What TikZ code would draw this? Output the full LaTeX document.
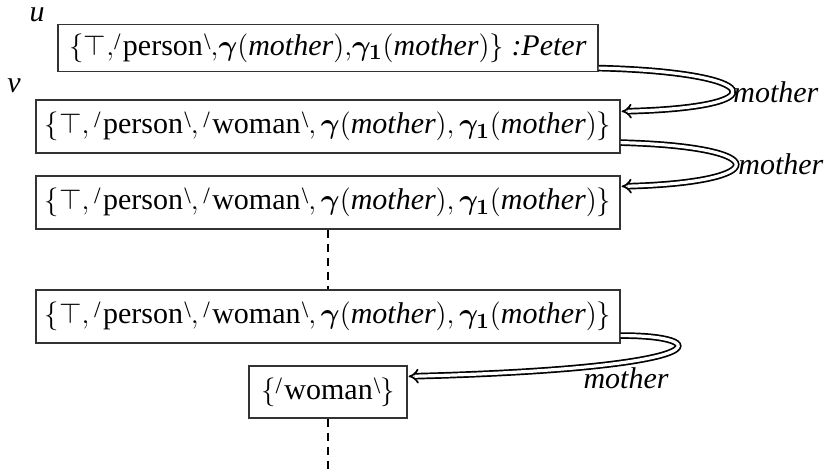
\documentclass[tikz,border=0pt]{standalone}
\usepackage{fontspec}
\setmainfont{Liberation Serif}
\usepackage{amsmath,amssymb}
\usepackage{graphicx}
\usetikzlibrary{arrows.meta}
\newcommand{\qL}{\raisebox{0.42ex}{\scalebox{0.78}{/}}\kern0.08em}
\newcommand{\qR}{\kern0.04em\raisebox{0.42ex}{\scalebox{0.78}{\textbackslash}}}
\newcommand{\mo}{\text{\itshape mother}}
\newcommand{\gm}{\boldsymbol{\gamma}}
\newcommand{\gmo}{\boldsymbol{\gamma_1}}
\begin{document}
\begin{tikzpicture}[x=0.5pt,y=-0.5pt,font=\fontsize{15}{18}\selectfont]
\tikzset{
  setbox/.style={draw=black!80,line width=0.6pt,inner sep=0pt,align=center},
  bigbox/.style={setbox,minimum width=292pt,minimum height=26.5pt},
  rel/.style={double=white,double distance=1.6pt,line width=0.85pt,-{Implies},shorten >=0.5pt},
  dots/.style={line width=1pt,dash pattern=on 4pt off 3pt},
  lbl/.style={inner sep=0pt,font=\fontsize{15}{18}\selectfont\itshape}
}
\useasboundingbox (0,0) rectangle (829,472);
\node[lbl] (u) at (37,15) {u};
\node[lbl] (v) at (14,86) {v};
\node[setbox,minimum width=270pt,minimum height=23.5pt] (b1) at (328,48)
  {$\{\top{,}\text{\qL person\qR}{,}\gm(\mo){,}\gmo(\mo)\}$ \textit{:Peter}};
\node[bigbox] (b2) at (328,126.5)
  {$\{\top,\text{\qL person\qR},\text{\qL woman\qR},\gm(\mo),\gmo(\mo)\}$};
\node[bigbox] (b3) at (328,202.5)
  {$\{\top,\text{\qL person\qR},\text{\qL woman\qR},\gm(\mo),\gmo(\mo)\}$};
\node[bigbox] (b4) at (328,316.5)
  {$\{\top,\text{\qL person\qR},\text{\qL woman\qR},\gm(\mo),\gmo(\mo)\}$};
\node[setbox,minimum width=79pt,minimum height=26pt] (b5) at (328,392)
  {$\{\text{\qL woman\qR}\}$};
\coordinate (end) at (328,472);
\draw[dots] (b3.south) -- (b4.north);
\draw[dots] (b5.south) -- (end);
\draw[rel] ([yshift=2pt]b1.south east) .. controls +(165,4) and +(160,-4) .. ([yshift=-6pt]b2.north east);
\draw[rel] ([yshift=5.5pt]b2.south east) .. controls +(155,4) and +(151,-4) .. ([yshift=-5.5pt]b3.north east);
\draw[rel] ([yshift=4pt]b4.south east) .. controls (712,335) and (728,368) .. ([yshift=-5.5pt]b5.north east);
\node[lbl,anchor=west] (m1) at (733,92) {mother};
\node[lbl,anchor=west] (m2) at (738,164) {mother};
\node[lbl] (m3) at (626,378) {mother};
\end{tikzpicture}
\end{document}
